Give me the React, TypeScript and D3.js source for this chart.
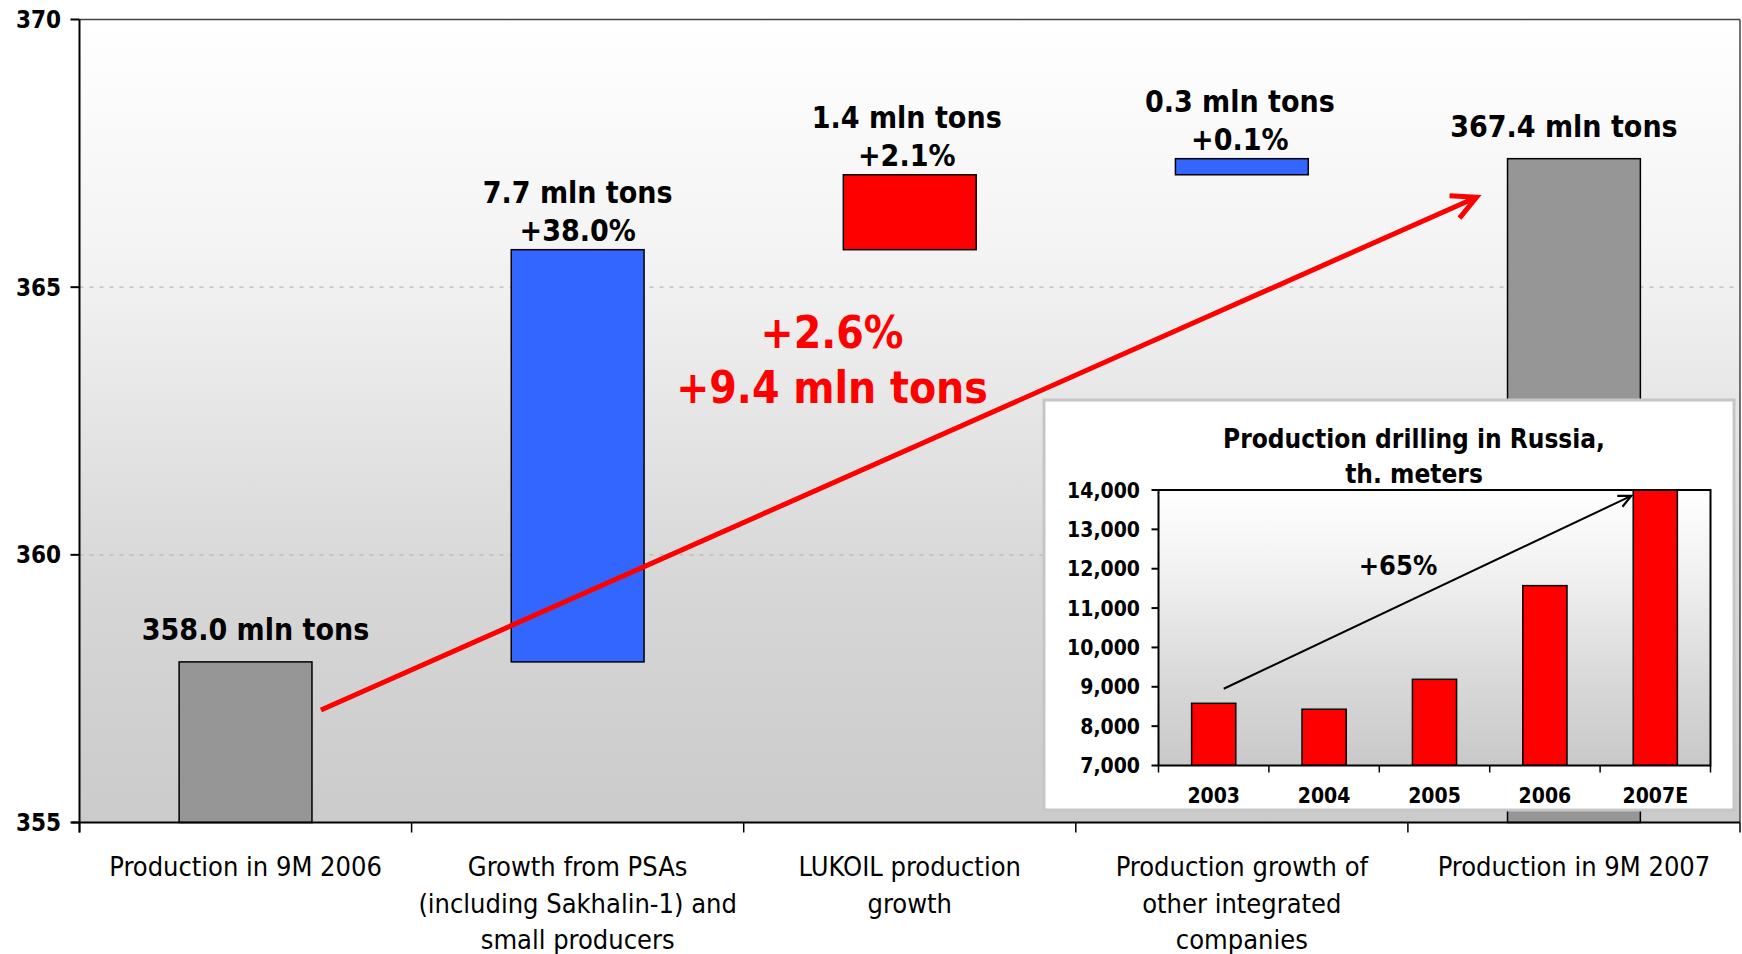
import React from "react";
import * as d3 from "d3";

// ---- Main waterfall: Russian oil production, 9M 2006 -> 9M 2007 ----
const categoryLines: string[][] = [
  ["Production in 9M 2006"],
  ["Growth from PSAs", "(including Sakhalin-1) and", "small producers"],
  ["LUKOIL production", "growth"],
  ["Production growth of", "other integrated", "companies"],
  ["Production in 9M 2007"],
];
const startValue = 358.0;
const increments = [7.7, 1.4, 0.3];
const endValue = 367.4;
const barColors = ["#969696", "#3366FF", "#FF0000", "#3366FF", "#969696"];
const valueLabels: string[][] = [
  ["358.0 mln tons"],
  ["7.7 mln tons", "+38.0%"],
  ["1.4 mln tons", "+2.1%"],
  ["0.3 mln tons", "+0.1%"],
  ["367.4 mln tons"],
];
const yDomain: [number, number] = [355, 370];
const yTicks = [355, 360, 365, 370];
const gridValues = [360, 365];
const totalLines = ["+2.6%", "+9.4 mln tons"];
// trend arrow, in data units (start level just right of the first bar, end near the last)
const trendFrom = 357.1;
const trendTo = 366.68;

// ---- Inset: production drilling ----
const insetTitle = ["Production drilling in Russia,", "th. meters"];
const years = ["2003", "2004", "2005", "2006", "2007E"];
const drilling = [8580, 8430, 9190, 11570, 14150];
const insetDomain: [number, number] = [7000, 14000];
const insetTicks = [7000, 8000, 9000, 10000, 11000, 12000, 13000, 14000];
const insetGrowth = "+65%";
const insetArrowFrom = 8950;
const insetArrowTo = 13850;

const W = 1742;
const H = 954;
const FONT = "'DejaVu Sans Condensed', 'DejaVu Sans', Verdana, sans-serif";

function arrowHead(x1: number, y1: number, x2: number, y2: number, len: number, spread: number) {
  const a = Math.atan2(y1 - y2, x1 - x2);
  const p1 = [x2 + len * Math.cos(a + spread), y2 + len * Math.sin(a + spread)];
  const p2 = [x2 + len * Math.cos(a - spread), y2 + len * Math.sin(a - spread)];
  return `M${p1[0]},${p1[1]}L${x2},${y2}L${p2[0]},${p2[1]}`;
}

export default function App() {
  // main plot frame
  const left = 79.5;
  const right = 1740;
  const top = 19.5;
  const bottom = 822.5;

  const x = d3
    .scaleBand<number>()
    .domain(d3.range(categoryLines.length))
    .range([left, right])
    .paddingInner(0.6)
    .paddingOuter(0.3);
  const step = x.step();
  const y = d3.scaleLinear().domain(yDomain).range([bottom, top]);

  // waterfall segments
  const cum = [startValue];
  increments.forEach((d) => cum.push(cum[cum.length - 1] + d));
  const segments: [number, number][] = [
    [yDomain[0], startValue],
    ...increments.map((d, i) => [cum[i], cum[i + 1]] as [number, number]),
    [yDomain[0], endValue],
  ];

  const labelNudge = [10, 0, -3, -2, -10];

  // trend arrow
  const ax1 = (x(0) as number) + x.bandwidth() + 9;
  const ay1 = y(trendFrom);
  const ax2 = (x(4) as number) - 31;
  const ay2 = y(trendTo);

  // inset frame
  const box = { x: 1044, y: 400, w: 690, h: 410 };
  const iLeft = 1158.5;
  const iRight = 1710.5;
  const iTop = 490;
  const iBottom = 765.5;
  const ix = d3
    .scaleBand<string>()
    .domain(years)
    .range([iLeft, iRight])
    .paddingInner(0.6)
    .paddingOuter(0.3);
  const iy = d3.scaleLinear().domain(insetDomain).range([iBottom, iTop]);
  const fmt = d3.format(",");

  const bx1 = (ix(years[0]) as number) + ix.bandwidth() / 2 + 10;
  const by1 = iy(insetArrowFrom);
  const bx2 = (ix(years[4]) as number) - 2;
  const by2 = iy(insetArrowTo);

  return (
    <svg
      width={W}
      height={H}
      style={{ position: "absolute", left: 0, top: 0, background: "#fff", fontFamily: FONT, fontStretch: "condensed" }}
    >
      <defs>
        <linearGradient id="plotBg" x1="0" y1="0" x2="0" y2="1">
          <stop offset="0" stopColor="#ffffff" />
          <stop offset="0.3" stopColor="#f3f3f3" />
          <stop offset="0.7" stopColor="#d7d7d7" />
          <stop offset="1" stopColor="#cbcbcb" />
        </linearGradient>
        <linearGradient id="insetBg" x1="0" y1="0" x2="0" y2="1">
          <stop offset="0" stopColor="#ffffff" />
          <stop offset="0.3" stopColor="#f1f1f1" />
          <stop offset="0.7" stopColor="#d8d8d8" />
          <stop offset="1" stopColor="#c9c9c9" />
        </linearGradient>
        <clipPath id="insetClip">
          <rect x={iLeft} y={iTop} width={iRight - iLeft} height={iBottom - iTop} />
        </clipPath>
      </defs>

      {/* plot background and frame */}
      <rect x={left} y={top} width={right - left} height={bottom - top} fill="url(#plotBg)" />
      {gridValues.map((v) => (
        <line key={v} x1={left} x2={right} y1={y(v)} y2={y(v)} stroke="#b8b8b8" strokeWidth={1.3} strokeDasharray="4 6" />
      ))}
      <line x1={left} x2={right} y1={top} y2={top} stroke="#444" strokeWidth={1.5} />
      <line x1={right} x2={right} y1={top} y2={bottom} stroke="#444" strokeWidth={1.5} />

      {/* bars */}
      {segments.map(([a, b], i) => (
        <rect
          key={i}
          x={x(i)}
          y={y(b)}
          width={x.bandwidth()}
          height={y(a) - y(b)}
          fill={barColors[i]}
          stroke="#000"
          strokeWidth={1.5}
        />
      ))}

      {/* value labels */}
      {valueLabels.map((lines, i) => {
        const cx = (x(i) as number) + x.bandwidth() / 2 + labelNudge[i];
        const topY = y(segments[i][1]);
        const gap = lines.length > 1 ? 9 : 22;
        return (
          <text key={i} textAnchor="middle" fontWeight="bold" fontSize={30} fill="#000">
            {lines.map((t, j) => (
              <tspan key={j} x={cx} y={topY - gap - (lines.length - 1 - j) * 38}>
                {t}
              </tspan>
            ))}
          </text>
        );
      })}

      {/* axes */}
      <line x1={left} x2={left} y1={top} y2={bottom + 10} stroke="#000" strokeWidth={2} />
      <line x1={left - 8} x2={right} y1={bottom} y2={bottom} stroke="#000" strokeWidth={2} />
      {yTicks.map((v) => (
        <g key={v}>
          <line x1={left - 9} x2={left} y1={y(v)} y2={y(v)} stroke="#000" strokeWidth={2} />
          <text x={61} y={y(v) + 8.5} textAnchor="end" fontWeight="bold" fontSize={24} fill="#000">
            {v}
          </text>
        </g>
      ))}
      {d3.range(categoryLines.length + 1).map((i) => (
        <line key={i} x1={left + i * step} x2={left + i * step} y1={bottom} y2={bottom + 10} stroke="#000" strokeWidth={1.5} />
      ))}
      {categoryLines.map((lines, i) => (
        <text key={i} textAnchor="middle" fontSize={27} fill="#000">
          {lines.map((t, j) => (
            <tspan key={j} x={(x(i) as number) + x.bandwidth() / 2} y={876 + j * 36.5}>
              {t}
            </tspan>
          ))}
        </text>
      ))}

      {/* overall change */}
      <text textAnchor="middle" fontWeight="bold" fontSize={44} fill="#FF0000">
        <tspan x={832} y={348}>{totalLines[0]}</tspan>
        <tspan x={832} y={403}>{totalLines[1]}</tspan>
      </text>
      <line x1={ax1} y1={ay1} x2={ax2} y2={ay2} stroke="#FF0000" strokeWidth={5} />
      <path d={arrowHead(ax1, ay1, ax2, ay2, 27, 0.47)} fill="none" stroke="#FF0000" strokeWidth={5} strokeLinejoin="miter" />

      {/* inset: production drilling */}
      <rect x={box.x} y={box.y} width={box.w} height={box.h} fill="#fff" stroke="#c6c6c6" strokeWidth={3} />
      <text textAnchor="middle" fontWeight="bold" fontSize={26} fill="#000">
        <tspan x={box.x + 370} y={448}>{insetTitle[0]}</tspan>
        <tspan x={box.x + 370} y={483}>{insetTitle[1]}</tspan>
      </text>
      <rect x={iLeft} y={iTop} width={iRight - iLeft} height={iBottom - iTop} fill="url(#insetBg)" />
      <g clipPath="url(#insetClip)">
        {drilling.map((v, i) => (
          <rect
            key={years[i]}
            x={ix(years[i])}
            y={iy(v)}
            width={ix.bandwidth()}
            height={iBottom - iy(v)}
            fill="#FF0000"
            stroke="#000"
            strokeWidth={1.5}
          />
        ))}
      </g>
      <rect x={iLeft} y={iTop} width={iRight - iLeft} height={iBottom - iTop} fill="none" stroke="#000" strokeWidth={2} />
      {insetTicks.map((v) => (
        <g key={v}>
          <line x1={iLeft - 7} x2={iLeft} y1={iy(v)} y2={iy(v)} stroke="#000" strokeWidth={2} />
          <text x={1140} y={iy(v) + 7.5} textAnchor="end" fontWeight="bold" fontSize={21} fill="#000">
            {fmt(v)}
          </text>
        </g>
      ))}
      {d3.range(years.length + 1).map((i) => (
        <line key={i} x1={iLeft + i * ix.step()} x2={iLeft + i * ix.step()} y1={iBottom} y2={iBottom + 7} stroke="#000" strokeWidth={1.5} />
      ))}
      {years.map((yr) => (
        <text key={yr} x={(ix(yr) as number) + ix.bandwidth() / 2} y={803} textAnchor="middle" fontWeight="bold" fontSize={21} fill="#000">
          {yr}
        </text>
      ))}
      <line x1={bx1} y1={by1} x2={bx2} y2={by2} stroke="#000" strokeWidth={2} />
      <path d={arrowHead(bx1, by1, bx2, by2, 14, 0.45)} fill="none" stroke="#000" strokeWidth={2.2} />
      <text x={1398} y={575} textAnchor="middle" fontWeight="bold" fontSize={27} fill="#000">
        {insetGrowth}
      </text>
    </svg>
  );
}
